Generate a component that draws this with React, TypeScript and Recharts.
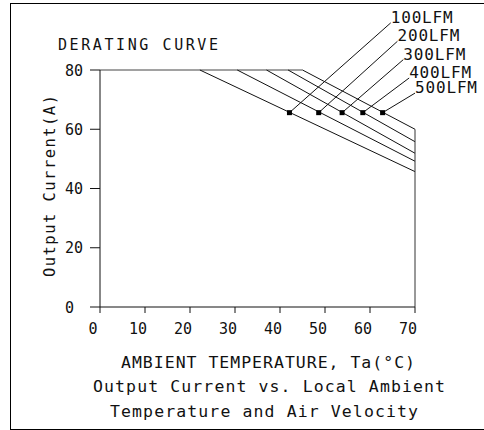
import {
  ComposedChart,
  Line,
  Scatter,
  XAxis,
  YAxis,
  ReferenceLine,
  ReferenceDot,
  Customized,
} from 'recharts';

// airflow curves, full load 80 A until the knee, then linear derating to 70°C
const AIRFLOWS = ['100LFM', '200LFM', '300LFM', '400LFM', '500LFM'];
const FULL_LOAD = 80;
const KNEE_TEMPS = [22.2, 30.5, 37.0, 41.8, 45.0];
const CURRENT_AT_70 = [45.7, 49.2, 51.9, 55.8, 60.0];
const MAX_TEMP = 70;

// callout markers on each curve and where their leaders end
const MARKER_TEMPS = [42.1, 48.6, 53.8, 58.4, 62.8];
const MARKER_CURRENT = 65.6;
const CALLOUT_TEMPS = [64.6, 66.1, 67.4, 68.7, 70.0];
const CALLOUT_CURRENTS = [95.9, 89.7, 83.5, 77.3, 72.2];

const X_TICKS = [0, 10, 20, 30, 40, 50, 60, 70];
const Y_TICKS = [0, 20, 40, 60, 80];

const FONT = '"DejaVu Sans Mono", monospace';
const INK = '#111';

// shared full-load plateau, from 0°C to the last knee
const plateau = [
  { t: 0, a: FULL_LOAD },
  { t: Math.max(...KNEE_TEMPS), a: FULL_LOAD },
];

const curves = AIRFLOWS.map((name, i) => ({
  name,
  points: [
    { t: KNEE_TEMPS[i], a: FULL_LOAD },
    { t: MAX_TEMP, a: CURRENT_AT_70[i] },
  ],
}));

// vertical cut-off at the max ambient temperature
const cutoff = [
  { t: MAX_TEMP, a: Math.max(...CURRENT_AT_70) },
  { t: MAX_TEMP, a: 0 },
];

const markers = MARKER_TEMPS.map((t) => ({ t, a: MARKER_CURRENT }));

const XTick = (p: any) => (
  <text x={p.x - 7} y={p.y + 19} fontFamily={FONT} fontSize={15} fill={INK} textAnchor="middle">
    {p.payload.value}
  </text>
);

const YTick = (p: any) => (
  <text x={65} y={p.y + 5.5} fontFamily={FONT} fontSize={15} fill={INK} textAnchor="start">
    {p.payload.value}
  </text>
);

const Square = (p: any) => <rect x={p.cx - 2.5} y={p.cy - 2.5} width={5} height={5} fill="#000" />;

function Captions() {
  const common = { fontFamily: FONT, fill: INK, lengthAdjust: 'spacing' as const };
  return (
    <g>
      <text x={58} y={49.5} fontSize={15} textLength={160} {...common}>
        DERATING CURVE
      </text>
      <text
        x={55}
        y={186}
        fontSize={15.5}
        textLength={182}
        textAnchor="middle"
        transform="rotate(-90 55 186)"
        {...common}
      >
        Output Current(A)
      </text>
      <text x={121} y={368} fontSize={16.5} textLength={294} {...common}>
        AMBIENT TEMPERATURE, Ta(°C)
      </text>
      <text x={93} y={391.5} fontSize={16.5} textLength={352} {...common}>
        Output Current vs. Local Ambient
      </text>
      <text x={110} y={417} fontSize={16.5} textLength={308} {...common}>
        Temperature and Air Velocity
      </text>
    </g>
  );
}

const lineProps = {
  dataKey: 'a',
  type: 'linear' as const,
  stroke: INK,
  strokeWidth: 1,
  dot: false,
  activeDot: false,
  isAnimationActive: false,
};

export default function App() {
  return (
    <div style={{ position: 'fixed', left: 0, top: 0, width: 484, height: 430, background: '#fff' }}>
      <div
        style={{
          position: 'absolute',
          left: 10,
          top: 3,
          width: 480,
          height: 425,
          borderLeft: '1px solid #000',
          borderTop: '1px solid #000',
          borderBottom: '1px solid #000',
        }}
      />
      <ComposedChart
        width={484}
        height={430}
        margin={{ top: 70, right: 69, bottom: 93, left: 0 }}
        style={{ position: 'absolute', left: 0, top: 0 }}
      >
        <XAxis
          type="number"
          dataKey="t"
          domain={[0, MAX_TEMP]}
          ticks={X_TICKS}
          height={30}
          tickSize={6}
          axisLine={{ stroke: INK }}
          tickLine={{ stroke: INK }}
          tick={<XTick />}
        />
        <YAxis
          type="number"
          dataKey="a"
          domain={[0, FULL_LOAD]}
          ticks={Y_TICKS}
          width={100}
          tickSize={10}
          axisLine={{ stroke: INK }}
          tickLine={{ stroke: INK }}
          tick={<YTick />}
        />
        <Line data={plateau} {...lineProps} stroke="#444" />
        {curves.map((c) => (
          <Line key={c.name} data={c.points} {...lineProps} />
        ))}
        <Line data={cutoff} {...lineProps} stroke="#333" />
        {AIRFLOWS.map((name, i) => (
          <ReferenceLine
            key={`leader-${name}`}
            segment={[
              { x: MARKER_TEMPS[i], y: MARKER_CURRENT },
              { x: CALLOUT_TEMPS[i], y: CALLOUT_CURRENTS[i] },
            ]}
            ifOverflow="visible"
            stroke={INK}
            strokeWidth={1}
          />
        ))}
        {AIRFLOWS.map((name, i) => (
          <ReferenceDot
            key={`callout-${name}`}
            x={CALLOUT_TEMPS[i]}
            y={CALLOUT_CURRENTS[i]}
            r={0}
            ifOverflow="visible"
            shape={(p: any) => (
              <text
                x={p.cx}
                y={p.cy}
                fontFamily={FONT}
                fontSize={16}
                fill={INK}
                textLength={62}
                lengthAdjust="spacing"
              >
                {name}
              </text>
            )}
          />
        ))}
        <Scatter data={markers} dataKey="a" shape={<Square />} isAnimationActive={false} />
        <Customized component={<Captions />} />
      </ComposedChart>
    </div>
  );
}
